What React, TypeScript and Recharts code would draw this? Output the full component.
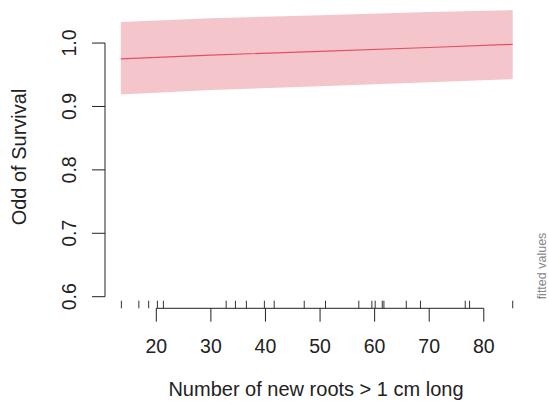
import {
    ComposedChart,
    Area,
    Line,
    Scatter,
    XAxis,
    YAxis,
    ReferenceLine,
} from "recharts";

// fitted curve + confidence band
const roots = [13.5, 30, 50, 70, 85.3];
const fitted = [0.975, 0.981, 0.987, 0.993, 0.998];
const lower = [0.919, 0.926, 0.932, 0.938, 0.943];
const upper = [1.033, 1.039, 1.044, 1.049, 1.052];

// observed values shown as a rug along the bottom
const rugValues = [
    13.6, 16.8, 18.6, 20.2, 21.3, 32.8, 34.5, 36.5, 39.8, 41.6, 47.1,
    51.0, 57.1, 59.5, 60.1, 61.4, 61.7, 65.8, 68.4, 76.6, 77.4, 85.3,
];

const xTicks = [20, 30, 40, 50, 60, 70, 80];
const yTicks = [0.6, 0.7, 0.8, 0.9, 1.0];

const X_MIN = 10.6;
const X_MAX = 88.1;
const Y_MIN = 0.5817;
const Y_MAX = 1.06;

const FONT = '"Liberation Sans", Arial, sans-serif';
const INK = "#222";

const curveData = roots.map((x, i) => ({
    x,
    fit: fitted[i],
    band: [lower[i], upper[i]],
}));

const rugData = rugValues.map((x) => ({ x, y: Y_MIN }));

const XTick = ({ x, y, payload }: { x: number; y: number; payload: { value: number } }) => (
    <g>
        <line x1={x} x2={x} y1={y} y2={y + 13.4} stroke={INK} strokeWidth={1} />
        <text x={x} y={y + 44.7} textAnchor="middle" fontSize={19.5} fontFamily={FONT} fill={INK}>
            {payload.value}
        </text>
    </g>
);

const YTick = ({ x, y, payload }: { x: number; y: number; payload: { value: number } }) => {
    const bx = x - 29;
    return (
        <g>
            <line x1={x - 13} x2={x} y1={y} y2={y} stroke={INK} strokeWidth={1} />
            <text
                x={bx}
                y={y}
                transform={`rotate(-90 ${bx} ${y})`}
                textAnchor="middle"
                fontSize={19.5}
                fontFamily={FONT}
                fill={INK}
            >
                {payload.value.toFixed(1)}
            </text>
        </g>
    );
};

const RugMark = ({ cx, cy }: { cx?: number; cy?: number }) => {
    if (cx == null || cy == null) return null;
    return <line x1={cx} x2={cx} y1={cy - 7.6} y2={cy} stroke="#333" strokeWidth={1} />;
};

export default function App() {
    return (
        <div style={{ position: "absolute", left: 0, top: 0, width: 549, height: 411, background: "#fff" }}>
            <ComposedChart
                width={549}
                height={411}
                data={curveData}
                margin={{ top: 5, right: 21, bottom: 42.7, left: 0 }}
            >
                <XAxis
                    dataKey="x"
                    type="number"
                    domain={[X_MIN, X_MAX]}
                    ticks={xTicks}
                    interval={0}
                    axisLine={false}
                    tickLine={false}
                    tickSize={0}
                    tickMargin={0}
                    height={60}
                    tick={XTick}
                />
                <YAxis
                    type="number"
                    domain={[Y_MIN, Y_MAX]}
                    ticks={yTicks}
                    interval={0}
                    axisLine={false}
                    tickLine={false}
                    tickSize={0}
                    tickMargin={0}
                    width={105}
                    tick={YTick}
                />
                <Area
                    dataKey="band"
                    type="linear"
                    stroke="none"
                    fill="#f4c6cb"
                    fillOpacity={1}
                    isAnimationActive={false}
                />
                <Line
                    dataKey="fit"
                    type="linear"
                    stroke="#e05262"
                    strokeWidth={1.2}
                    dot={false}
                    isAnimationActive={false}
                />
                <Scatter data={rugData} dataKey="y" shape={RugMark} isAnimationActive={false} />
                {/* R-style axis lines: only span the outer ticks */}
                <ReferenceLine
                    segment={[{ x: 20, y: Y_MIN }, { x: 80, y: Y_MIN }]}
                    stroke={INK}
                    strokeWidth={1}
                />
                <ReferenceLine
                    segment={[{ x: X_MIN, y: 0.6 }, { x: X_MIN, y: 1.0 }]}
                    stroke={INK}
                    strokeWidth={1}
                />
                <text x={316} y={396} textAnchor="middle" fontSize={20} fontFamily={FONT} fill={INK}>
                    Number of new roots &gt; 1 cm long
                </text>
                <text
                    x={25.5}
                    y={157}
                    transform="rotate(-90 25.5 157)"
                    textAnchor="middle"
                    fontSize={20}
                    fontFamily={FONT}
                    fill={INK}
                >
                    Odd of Survival
                </text>
                <text
                    x={546}
                    y={266}
                    transform="rotate(-90 546 266)"
                    textAnchor="middle"
                    fontSize={12.5}
                    fontFamily={FONT}
                    fill="#888"
                >
                    fitted values
                </text>
            </ComposedChart>
        </div>
    );
}
